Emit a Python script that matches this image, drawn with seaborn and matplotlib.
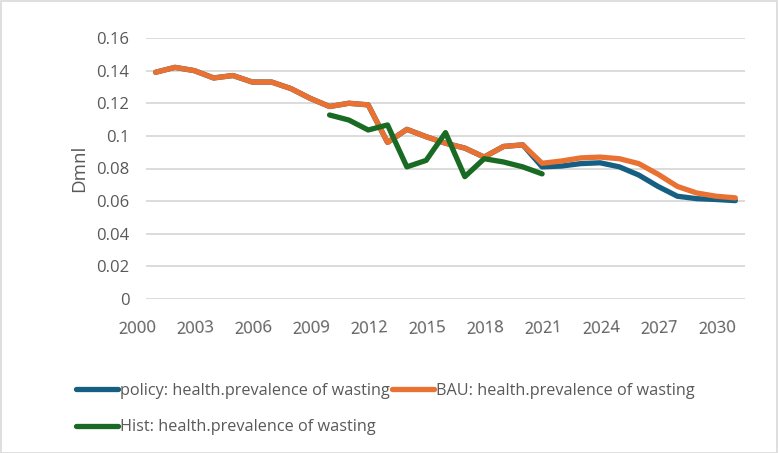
import pandas as pd
import seaborn as sns
import matplotlib.pyplot as plt
from matplotlib.lines import Line2D
from matplotlib.patches import Rectangle

# data
years = list(range(2000, 2031))
bau = [0.139, 0.142, 0.140, 0.1355, 0.137, 0.133, 0.133, 0.129, 0.123, 0.118,
       0.120, 0.119, 0.096, 0.104, 0.0995, 0.0955, 0.0925, 0.087, 0.0935, 0.0945,
       0.0832, 0.0846, 0.0865, 0.087, 0.086, 0.083, 0.0765, 0.069, 0.065, 0.063, 0.062]
policy = bau[:20] + [0.081, 0.0815, 0.083, 0.0835, 0.081, 0.076, 0.069, 0.063,
                     0.0615, 0.061, 0.0603]
hist_years = list(range(2009, 2021))
hist = [0.1128, 0.1097, 0.1036, 0.1067, 0.081, 0.085, 0.102, 0.075,
        0.086, 0.084, 0.081, 0.0767]
xticks = list(range(2000, 2031, 3))

labels = ['policy: health.prevalence of wasting',
          'BAU: health.prevalence of wasting',
          'Hist: health.prevalence of wasting']
colors = ['#156082', '#E97132', '#196B24']

df_main = pd.DataFrame({'Year': years, 'policy': policy, 'BAU': bau})
df_hist = pd.DataFrame({'Year': hist_years, 'Hist': hist})

sns.set_theme(style="white")
plt.rcParams['font.family'] = ['Open Sans', 'DejaVu Sans']

fig = plt.figure(figsize=(7.79, 4.53), dpi=100)
ax = fig.add_axes([146 / 779, 1 - 299 / 453, (745 - 146) / 779, (299 - 38) / 453])

lw = 3.8
sns.lineplot(data=df_main, x='Year', y='policy', color=colors[0], linewidth=lw, ax=ax)
sns.lineplot(data=df_main, x='Year', y='BAU', color=colors[1], linewidth=lw, ax=ax)
sns.lineplot(data=df_hist, x='Year', y='Hist', color=colors[2], linewidth=lw, ax=ax)
for ln in ax.lines:
    ln.set_solid_capstyle('round')
    ln.set_solid_joinstyle('round')

ax.set_xlim(1999.5, 2030.5)
ax.set_ylim(0, 0.16)
yt = [0, 0.02, 0.04, 0.06, 0.08, 0.1, 0.12, 0.14, 0.16]
ax.set_yticks(yt)
ax.set_yticklabels(['0', '0.02', '0.04', '0.06', '0.08', '0.1', '0.12', '0.14', '0.16'])
ax.set_xticks(xticks)
ax.set_xticklabels([str(y) for y in xticks], rotation=3, ha='right',
                   rotation_mode='anchor')
ax.tick_params(axis='both', length=0, labelsize=12, labelcolor='#595959')
ax.tick_params(axis='y', pad=12)
ax.tick_params(axis='x', pad=15)
ax.grid(axis='y', color='#D9D9D9', linewidth=1.3)
ax.set_axisbelow(True)
for s in ax.spines.values():
    s.set_visible(False)
ax.set_xlabel('')
ax.set_ylabel('Dmnl', fontsize=13.5, color='#595959', labelpad=6)

handles = [Line2D([], [], color=c, linewidth=lw, solid_capstyle='round') for c in colors]
# reorder so rows read policy, BAU / Hist
fig.legend([handles[0], handles[2], handles[1]], [labels[0], labels[2], labels[1]],
           ncol=2, loc='upper left', bbox_to_anchor=(76 / 779, 1 - 383 / 453),
           frameon=False, fontsize=11.7, labelcolor='#595959', handlelength=2.6,
           handletextpad=0.1, columnspacing=0.15, labelspacing=1.25,
           borderaxespad=0, borderpad=0)

fig.patches.append(Rectangle((0.001, 0.001), 0.997, 0.997, transform=fig.transFigure,
                             fill=False, edgecolor='#D9D9D9', linewidth=1.2))

fig.savefig('out.png', dpi=100)
